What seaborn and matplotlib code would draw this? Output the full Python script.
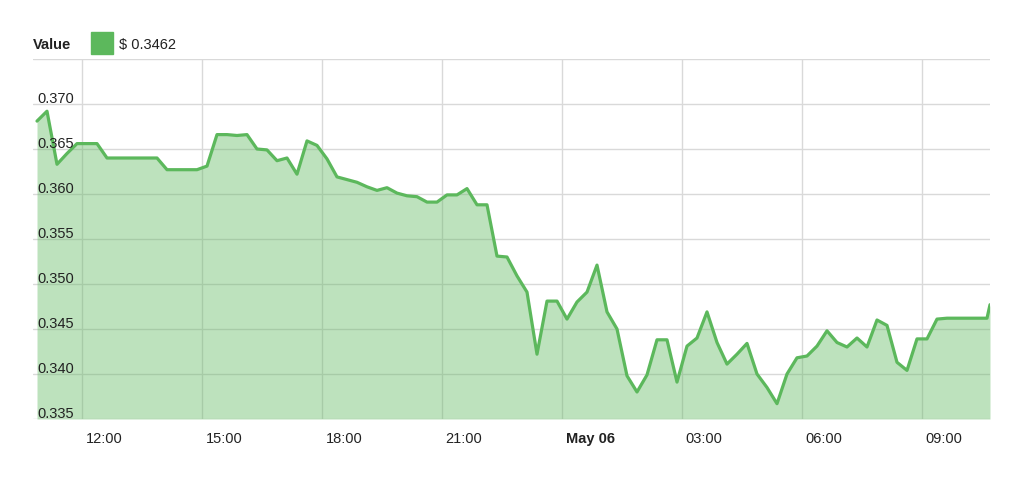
import matplotlib
matplotlib.use("Agg")
import matplotlib.pyplot as plt
import matplotlib.transforms as mtransforms
from matplotlib.patches import Rectangle
import pandas as pd
import seaborn as sns

# price every 15 minutes
values = [
    0.3681, 0.3692, 0.3633, 0.3645, 0.3656, 0.3656, 0.3656, 0.3640, 0.3640, 0.3640,
    0.3640, 0.3640, 0.3640, 0.3627, 0.3627, 0.3627, 0.3627, 0.3631, 0.3666, 0.3666,
    0.3665, 0.3666, 0.3650, 0.3649, 0.3637, 0.3640, 0.3622, 0.3659, 0.3654, 0.3639,
    0.3619, 0.3616, 0.3613, 0.3608, 0.3604, 0.3607, 0.3601, 0.3598, 0.3597, 0.3591,
    0.3591, 0.3599, 0.3599, 0.3606, 0.3588, 0.3588, 0.3531, 0.3530, 0.3509, 0.3491,
    0.3422, 0.3481, 0.3481, 0.3461, 0.3480, 0.3491, 0.3521, 0.3469, 0.3450, 0.3398,
    0.3380, 0.3399, 0.3438, 0.3438, 0.3391, 0.3431, 0.3440, 0.3469, 0.3435, 0.3411,
    0.3422, 0.3434, 0.3400, 0.3385, 0.3367, 0.3400, 0.3418, 0.3420, 0.3431, 0.3448,
    0.3435, 0.3430, 0.3440, 0.3430, 0.3460, 0.3454, 0.3413, 0.3404, 0.3439, 0.3439,
    0.3461, 0.3462, 0.3462, 0.3462, 0.3462, 0.3462,
]
last_value = 0.3477
times = list(pd.date_range("2018-05-05 10:52:30", periods=len(values), freq="15min"))
times.append(pd.Timestamp("2018-05-06 10:42:00"))
values = values + [last_value]

y_ticks = [0.335, 0.340, 0.345, 0.350, 0.355, 0.360, 0.365, 0.370, 0.375]
y_labels = ["0.335", "0.340", "0.345", "0.350", "0.355", "0.360", "0.365", "0.370", ""]
tick_times = pd.date_range("2018-05-05 12:00", periods=8, freq="3h")
tick_labels = ["12:00", "15:00", "18:00", "21:00", "May 06", "03:00", "06:00", "09:00"]
legend_name = "Value"
legend_value = "$ 0.3462"

LINE = "#5cb85c"
GRID = "#d9d9d9"

sns.set_style("white")
plt.rcParams["font.family"] = ["Liberation Sans", "DejaVu Sans"]

fig = plt.figure(figsize=(10.24, 4.81), dpi=100)
ax = fig.add_axes([33 / 1024, 61 / 481, 957 / 1024, 360 / 481])

df = pd.DataFrame({"time": times, "value": values})
ax.fill_between(df["time"], df["value"], y_ticks[0], color=LINE, alpha=0.4, lw=0, zorder=1)
sns.lineplot(data=df, x="time", y="value", color=LINE, lw=2.3, ax=ax, zorder=3)

ax.set_xlim(pd.Timestamp("2018-05-05 10:46:30"), times[-1])
ax.set_ylim(y_ticks[0], y_ticks[-1])
ax.set_xlabel("")
ax.set_ylabel("")

# grid
ax.set_yticks(y_ticks)
ax.set_yticklabels([])
ax.set_xticks(tick_times)
ax.set_xticklabels(tick_labels)
ax.grid(True, color=GRID, lw=1)
ax.set_axisbelow(True)
for s in ax.spines.values():
    s.set_visible(False)
ax.tick_params(length=0)
ax.tick_params(axis="x", pad=9, labelsize=10.5, colors="#222222")

shift = mtransforms.ScaledTranslation(0.035, 0, fig.dpi_scale_trans)
for i, lab in enumerate(ax.get_xticklabels()):
    lab.set_ha("left")
    lab.set_transform(lab.get_transform() + shift)
    if tick_labels[i] == "May 06":
        lab.set_fontweight("bold")

# y labels sit inside the plot, just above their gridline
up = mtransforms.ScaledTranslation(0.045, 0.02, fig.dpi_scale_trans)
for v, t in zip(y_ticks, y_labels):
    ax.text(0, v, t, transform=ax.get_yaxis_transform() + up,
            ha="left", va="baseline", fontsize=10.5, color="#222222", zorder=4)

# legend row
fig.text(33 / 1024, 1 - 45 / 481, legend_name, fontsize=10.5, fontweight="bold",
         va="center", ha="left", color="#222222")
fig.patches.append(Rectangle((91 / 1024, 1 - 55 / 481), 22 / 1024, 22 / 481,
                             transform=fig.transFigure, color=LINE))
fig.text(119 / 1024, 1 - 45 / 481, legend_value, fontsize=10.5,
         va="center", ha="left", color="#222222")

fig.savefig("out.png", dpi=100)
